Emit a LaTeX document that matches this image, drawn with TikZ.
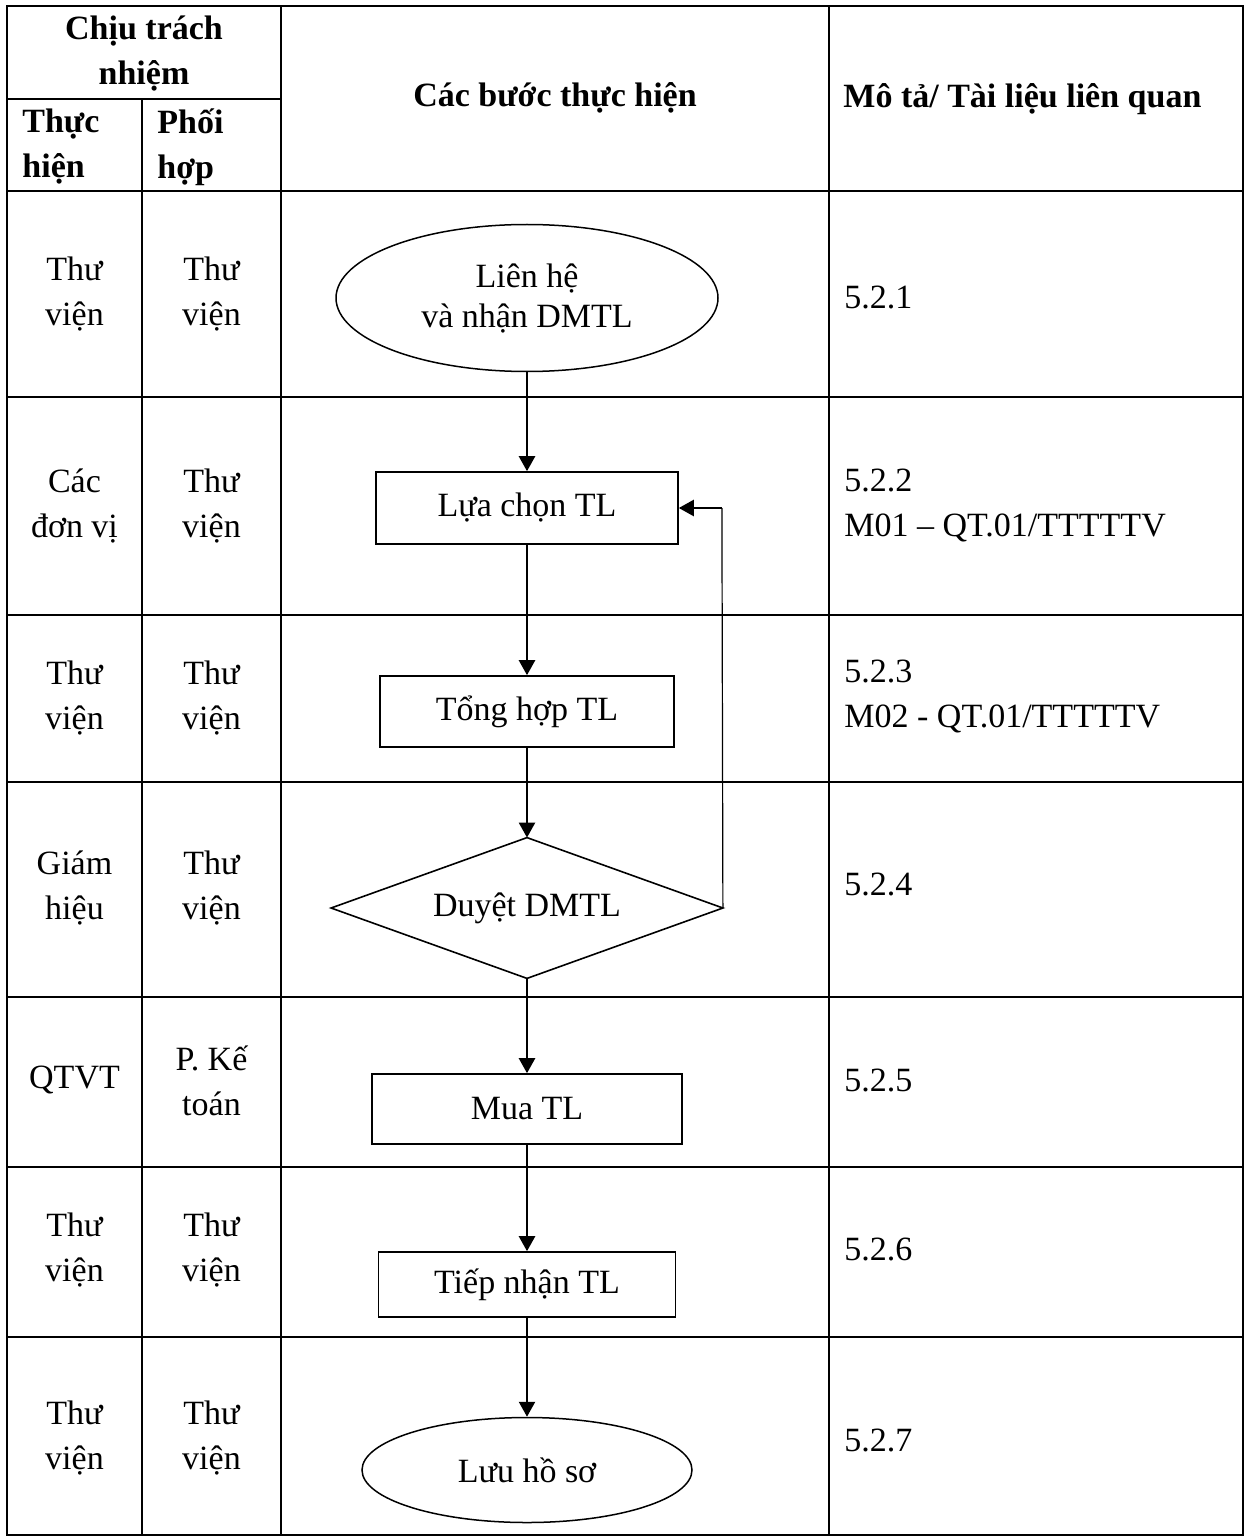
\documentclass[tikz,border=0pt]{standalone}
\usepackage{fontspec}
\setmainfont{Liberation Serif}
\usetikzlibrary{shapes.geometric,arrows.meta}
\begin{document}
\begin{tikzpicture}[x=0.5pt,y=-0.5pt,
  txt/.style={font=\fontsize{17}{22.5}\selectfont, inner sep=0pt, align=center},
  hdr/.style={font=\fontsize{17}{22.5}\selectfont\bfseries, inner sep=0pt},
  gridline/.style={line width=1.3pt},
  boxnode/.style={draw, line width=0.8pt, rectangle, inner sep=0pt, font=\fontsize{17}{22.5}\selectfont},
  ovalnode/.style={draw, line width=0.75pt, ellipse, inner sep=0pt, align=center, font=\fontsize{17}{20}\selectfont},
  decnode/.style={rectangle, inner sep=0pt, font=\fontsize{17}{22.5}\selectfont},
  decline/.style={line width=0.8pt, line join=miter},
  flow/.style={line width=1.2pt, -{Triangle[length=7.5pt,width=8pt]}},
  back/.style={line width=0.6pt}
]
\useasboundingbox (0,0) rectangle (1246,1540);
\fill[white] (0,0) rectangle (1246,1540);

% table grid
\draw[gridline] (7,6) rectangle (1243,1535);
\draw[gridline] (142,99) -- (142,1535);
\draw[gridline] (281,6) -- (281,1535);
\draw[gridline] (829,6) -- (829,1535);
\draw[gridline] (7,99) -- (281,99);
\foreach \yy in {191,397,615,782,997,1167,1337}
  \draw[gridline] (7,\yy) -- (1243,\yy);

% headers
\node[hdr, align=center] (h1) at (144,54) {Chịu trách\\nhiệm};
\node[hdr, align=left, anchor=west] (h2) at (22,147) {Thực\\hiện};
\node[hdr, align=left, anchor=west] (h3) at (157,147) {Phối\\hợp};
\node[hdr] (h4) at (555,98) {Các bước thực hiện};
\node[hdr, anchor=west] (h5) at (843,99) {Mô tả/ Tài liệu liên quan};

% left columns
\node[txt] (a1) at (74.5,294) {Thư\\viện};
\node[txt] (c1) at (211.5,294) {Thư\\viện};
\node[txt] (a2) at (74.5,506) {Các\\đơn vị};
\node[txt] (c2) at (211.5,506) {Thư\\viện};
\node[txt] (a3) at (74.5,698) {Thư\\viện};
\node[txt] (c3) at (211.5,698) {Thư\\viện};
\node[txt] (a4) at (74.5,888) {Giám\\hiệu};
\node[txt] (c4) at (211.5,888) {Thư\\viện};
\node[txt] (a5) at (74.5,1080) {QTVT};
\node[txt] (c5) at (211.5,1081) {P. Kế\\toán};
\node[txt] (a6) at (74.5,1250) {Thư\\viện};
\node[txt] (c6) at (211.5,1250) {Thư\\viện};
\node[txt] (a7) at (74.5,1438) {Thư\\viện};
\node[txt] (c7) at (211.5,1438) {Thư\\viện};

% description column
\node[txt, anchor=west, align=left] (m1) at (844,297) {5.2.1};
\node[txt, anchor=west, align=left] (m2) at (844,505) {5.2.2\\M01 – QT.01/TTTTTV};
\node[txt, anchor=west, align=left] (m3) at (844,696) {5.2.3\\M02 - QT.01/TTTTTV};
\node[txt, anchor=west, align=left] (m4) at (844,884) {5.2.4};
\node[txt, anchor=west, align=left] (m5) at (844,1080) {5.2.5};
\node[txt, anchor=west, align=left] (m6) at (844,1249) {5.2.6};
\node[txt, anchor=west, align=left] (m7) at (844,1440) {5.2.7};

% flow nodes
\node[ovalnode, minimum width=191pt, minimum height=73.5pt] (e1) at (527,298) {Liên hệ\\và nhận DMTL};
\node[boxnode, minimum width=151pt, minimum height=36pt] (b1) at (527,508) {Lựa chọn TL};
\node[boxnode, minimum width=147pt, minimum height=35.5pt] (b2) at (527,711.5) {Tổng hợp TL};
\node[decnode, minimum width=195.5pt, minimum height=70pt] (d) at (527,908) {Duyệt DMTL};
\draw[decline] (d.north) -- (d.east) -- (d.south) -- (d.west) -- cycle;
\node[boxnode, minimum width=155pt, minimum height=35pt] (b3) at (527,1109) {Mua TL};
\node[boxnode, minimum width=148.5pt, minimum height=32.5pt] (b4) at (527,1284.5) {Tiếp nhận TL};
\node[ovalnode, minimum width=165pt, minimum height=52.5pt] (e2) at (527,1470) {Lưu hồ sơ};

% connectors
\draw[flow] (e1.south) -- (b1.north);
\draw[flow] (b1.south) -- (b2.north);
\draw[flow] (b2.south) -- (d.north);
\draw[flow] (d.south) -- (b3.north);
\draw[flow] (b3.south) -- (b4.north);
\draw[flow] (b4.south) -- (e2.north);

\coordinate (fb) at ([xshift=-0.5pt]d.east |- b1.east);
\draw[back] (d.east) -- (fb);
\draw[flow] (fb) -- (b1.east);
\end{tikzpicture}
\end{document}
